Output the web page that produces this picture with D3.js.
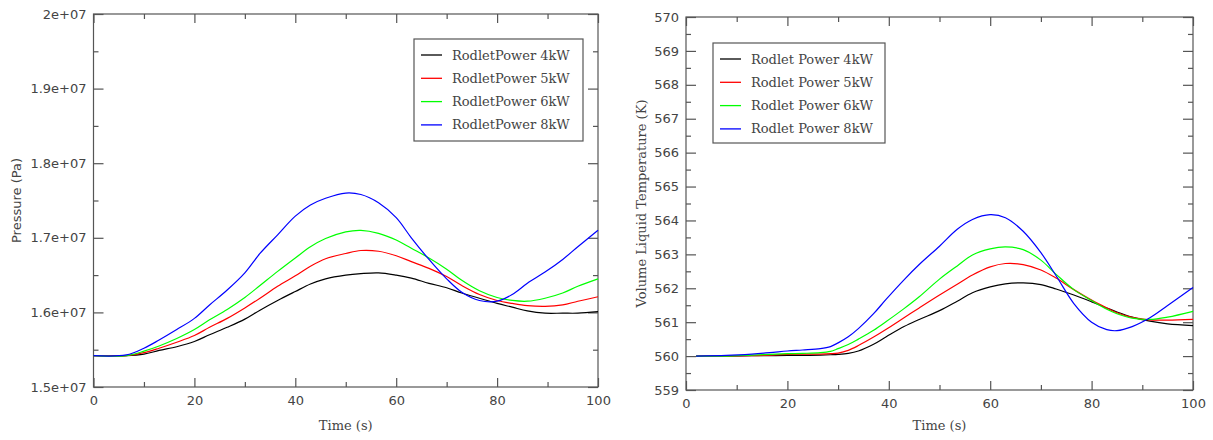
<!DOCTYPE html>
<html lang="en">
    <head>
        <meta charset="UTF-8">
        <title>Rodlet power</title>
        <script type="text/javascript" src="https://d3js.org/d3.v7.min.js"></script>
        <style>
         body { margin: 0; background: #fff; }
         .tick text { font-family: "DejaVu Sans"; font-size: 13px; fill: #444; }
         .lbl { font-family: "DejaVu Serif"; font-size: 13px; fill: #444; }
        </style>
    </head>
    <body>
      <div id="svgcontainer"></div>
        <script>
            const width = 1213, height = 440;

            // ---- left plot: pressure (1e6 Pa) ----
            const pTime = [0, 6.5, 10, 13, 16.5, 20, 23, 26.5, 30, 33, 36.5, 40, 43, 46, 50,
                           53, 56.5, 60, 63, 66.5, 70, 73, 76.5, 80, 83, 86, 89.5, 93, 96, 100];
            const p4kW = [15.42, 15.42, 15.44, 15.49, 15.54, 15.61, 15.70, 15.80, 15.91, 16.03, 16.16, 16.28, 16.38, 16.45, 16.50,
                          16.52, 16.53, 16.50, 16.46, 16.39, 16.33, 16.26, 16.19, 16.12, 16.07, 16.02, 15.99, 15.99, 15.99, 16.01];
            const p5kW = [15.42, 15.42, 15.46, 15.52, 15.60, 15.69, 15.80, 15.92, 16.06, 16.19, 16.35, 16.49, 16.62, 16.72, 16.79,
                          16.83, 16.82, 16.76, 16.68, 16.59, 16.48, 16.36, 16.24, 16.16, 16.12, 16.09, 16.08, 16.10, 16.15, 16.21];
            const p6kW = [15.42, 15.42, 15.48, 15.55, 15.65, 15.77, 15.90, 16.04, 16.20, 16.36, 16.55, 16.73, 16.88, 16.99, 17.08,
                          17.10, 17.06, 16.97, 16.86, 16.73, 16.58, 16.43, 16.29, 16.20, 16.16, 16.15, 16.19, 16.26, 16.35, 16.45];
            const p8kW = [15.42, 15.43, 15.52, 15.63, 15.77, 15.92, 16.10, 16.30, 16.53, 16.79, 17.04, 17.29, 17.44, 17.53, 17.60,
                          17.58, 17.47, 17.27, 17.00, 16.71, 16.45, 16.27, 16.16, 16.15, 16.24, 16.39, 16.54, 16.71, 16.88, 17.10];
            const pTicks = [15, 16, 17, 18, 19, 20];
            const pTickLabels = ["1.5e+07", "1.6e+07", "1.7e+07", "1.8e+07", "1.9e+07", "2e+07"];
            const pLegend = ["RodletPower 4kW", "RodletPower 5kW", "RodletPower 6kW", "RodletPower 8kW"];

            // ---- right plot: volume liquid temperature (K) ----
            const tTime = [2, 8, 13, 16.5, 20, 23, 26.5, 28.5, 30, 32, 34, 37, 39.5, 43, 46, 50,
                           53.5, 56.5, 60, 63, 66.5, 70, 73, 76.5, 80, 83, 85, 88, 91.5, 95, 100];
            const t4kW = [560.00, 560.00, 560.01, 560.01, 560.02, 560.02, 560.03, 560.04, 560.05, 560.08, 560.15, 560.35, 560.57, 560.87, 561.08, 561.34,
                          561.62, 561.87, 562.04, 562.13, 562.16, 562.11, 561.98, 561.80, 561.60, 561.42, 561.30, 561.15, 561.03, 560.95, 560.90];
            const t5kW = [560.00, 560.00, 560.01, 560.03, 560.05, 560.06, 560.06, 560.07, 560.09, 560.17, 560.31, 560.56, 560.79, 561.13, 561.42, 561.80,
                          562.12, 562.39, 562.63, 562.73, 562.70, 562.54, 562.30, 561.96, 561.65, 561.42, 561.28, 561.14, 561.07, 561.06, 561.08];
            const t6kW = [560.00, 560.00, 560.03, 560.05, 560.07, 560.08, 560.10, 560.14, 560.22, 560.34, 560.50, 560.76, 561.02, 561.40, 561.75, 562.27,
                          562.66, 562.98, 563.16, 563.22, 563.14, 562.83, 562.41, 561.96, 561.64, 561.38, 561.25, 561.12, 561.08, 561.15, 561.32];
            const t8kW = [560.00, 560.02, 560.06, 560.10, 560.15, 560.18, 560.22, 560.28, 560.39, 560.57, 560.81, 561.25, 561.68, 562.25, 562.70, 563.24,
                          563.74, 564.03, 564.17, 564.08, 563.68, 563.05, 562.37, 561.55, 561.00, 560.78, 560.75, 560.87, 561.13, 561.49, 562.02];
            const tTicks = [559, 560, 561, 562, 563, 564, 565, 566, 567, 568, 569, 570];
            const tLegend = ["Rodlet Power 4kW", "Rodlet Power 5kW", "Rodlet Power 6kW", "Rodlet Power 8kW"];

            const xTicks = [0, 20, 40, 60, 80, 100];
            const colors = ["#000000", "#ff0000", "#00ff00", "#0000ff"];

            const svg = d3.select("#svgcontainer")
                .append("svg")
                .attr("width", width)
                .attr("height", height)
                .attr("viewBox", [0, 0, width, height]);

            function drawPlot(o) {
                const x = d3.scaleLinear().domain([0, 100]).range([o.left, o.right]);
                const y = d3.scaleLinear().domain(o.yDomain).range([o.bottom, o.top]);
                const g = svg.append("g");
                const minorX = d3.range(10, 100, 20);
                const minorY = o.minorY;

                // frame
                g.append("rect")
                .attr("x", o.left).attr("y", o.top)
                .attr("width", o.right - o.left).attr("height", o.bottom - o.top)
                .attr("fill", "none").attr("stroke", "#555").attr("stroke-width", 1.2);

                const styleAxis = sel => {
                    sel.select(".domain").remove();
                    sel.selectAll(".tick line").attr("stroke", "#555").attr("stroke-width", 1.2);
                };

                // bottom + top
                g.append("g").attr("transform", `translate(0,${o.bottom})`)
                .call(d3.axisBottom(x).tickValues(xTicks).tickSize(-9).tickPadding(9).tickFormat(d3.format("d")))
                .call(styleAxis);
                g.append("g").attr("transform", `translate(0,${o.bottom})`)
                .call(d3.axisBottom(x).tickValues(minorX).tickSize(-5).tickFormat(""))
                .call(styleAxis);
                g.append("g").attr("transform", `translate(0,${o.top})`)
                .call(d3.axisTop(x).tickValues(xTicks).tickSize(-9).tickFormat(""))
                .call(styleAxis);
                g.append("g").attr("transform", `translate(0,${o.top})`)
                .call(d3.axisTop(x).tickValues(minorX).tickSize(-5).tickFormat(""))
                .call(styleAxis);

                // left + right
                g.append("g").attr("transform", `translate(${o.left},0)`)
                .call(d3.axisLeft(y).tickValues(o.yTicks).tickSize(-10).tickPadding(7)
                    .tickFormat((d, i) => o.yLabels[i]))
                .call(styleAxis);
                g.append("g").attr("transform", `translate(${o.left},0)`)
                .call(d3.axisLeft(y).tickValues(minorY).tickSize(-5).tickFormat(""))
                .call(styleAxis);
                g.append("g").attr("transform", `translate(${o.right},0)`)
                .call(d3.axisRight(y).tickValues(o.yTicks).tickSize(-10).tickFormat(""))
                .call(styleAxis);
                g.append("g").attr("transform", `translate(${o.right},0)`)
                .call(d3.axisRight(y).tickValues(minorY).tickSize(-5).tickFormat(""))
                .call(styleAxis);

                // axis titles
                g.append("text").attr("class", "lbl")
                .attr("x", (o.left + o.right) / 2).attr("y", 430)
                .attr("text-anchor", "middle")
                .text("Time (s)");
                g.append("text").attr("class", "lbl")
                .attr("transform", `translate(${o.yTitleX},${(o.top + o.bottom) / 2}) rotate(-90)`)
                .attr("text-anchor", "middle")
                .attr("dominant-baseline", "central")
                .style("font-family", o.yTitleFont)
                .text(o.yTitle);

                // lines
                const line = d3.line()
                .x((d, i) => x(o.time[i]))
                .y(d => y(d))
                .curve(d3.curveCatmullRom.alpha(0.5));
                o.series.forEach((s, k) => {
                    g.append("path")
                    .attr("d", line(s))
                    .attr("fill", "none")
                    .attr("stroke", colors[k])
                    .attr("stroke-width", 1.2);
                });

                // legend
                const lg = g.append("g");
                lg.append("rect")
                .attr("x", o.legend.x).attr("y", o.legend.y)
                .attr("width", o.legend.w).attr("height", o.legend.h)
                .attr("fill", "#fff").attr("stroke", "#555").attr("stroke-width", 1.2);
                o.legendLabels.forEach((t, k) => {
                    const yy = o.legend.y + 16 + k * 23.3;
                    lg.append("line")
                    .attr("x1", o.legend.x + 7).attr("x2", o.legend.x + 28)
                    .attr("y1", yy).attr("y2", yy)
                    .attr("stroke", colors[k]).attr("stroke-width", 1.3);
                    lg.append("text").attr("class", "lbl")
                    .attr("x", o.legend.x + 38).attr("y", yy)
                    .attr("dominant-baseline", "central")
                    .text(t);
                });
            }

            drawPlot({
                left: 93.5, right: 598, top: 14, bottom: 387,
                yDomain: [15, 20], yTicks: pTicks, yLabels: pTickLabels,
                minorY: d3.range(15.5, 20, 1),
                time: pTime, series: [p4kW, p5kW, p6kW, p8kW],
                yTitle: "Pressure (Pa)", yTitleX: 16, yTitleFont: "DejaVu Sans",
                legendLabels: pLegend,
                legend: { x: 414, y: 39, w: 169, h: 102 }
            });

            drawPlot({
                left: 686, right: 1193, top: 17, bottom: 390,
                yDomain: [559, 570], yTicks: tTicks, yLabels: tTicks.map(String),
                minorY: d3.range(559.5, 570, 1),
                time: tTime, series: [t4kW, t5kW, t6kW, t8kW],
                yTitle: "Volume Liquid Temperature (K)", yTitleX: 641, yTitleFont: "DejaVu Serif",
                legendLabels: tLegend,
                legend: { x: 713, y: 43, w: 172, h: 100 }
            });
        </script>
    </body>
</html>
